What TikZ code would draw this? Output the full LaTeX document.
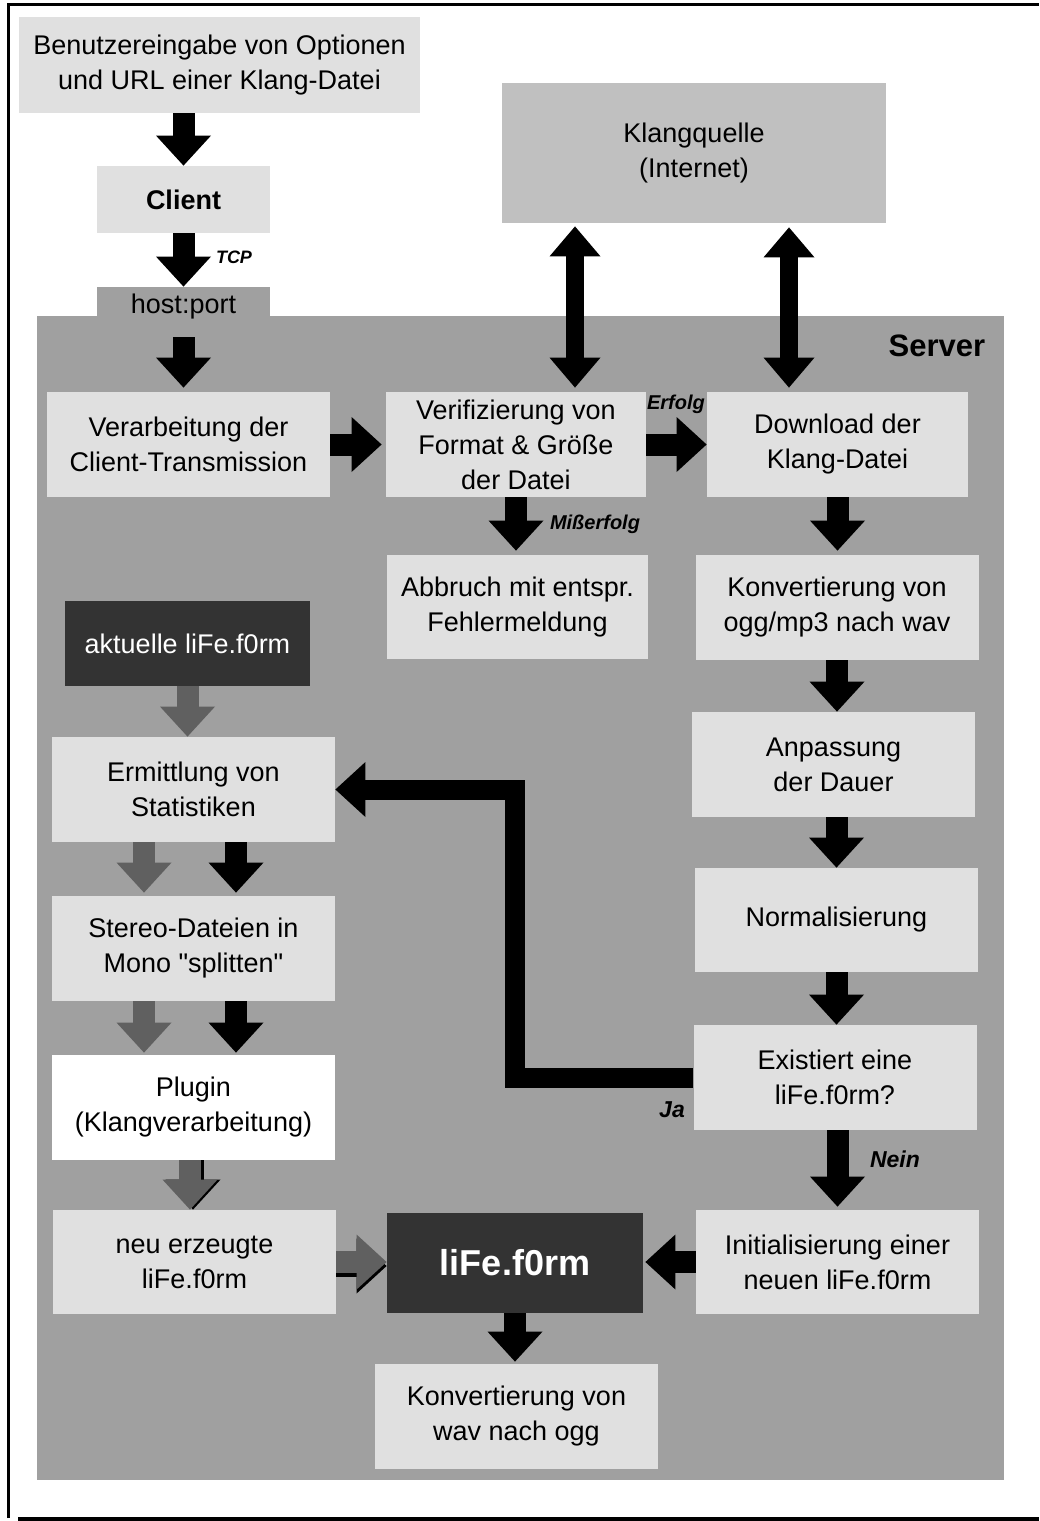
\documentclass[tikz,border=0pt]{standalone}
\usepackage{fontspec}
\setmainfont{Liberation Sans}
\newfontfamily\qfont{Liberation Sans}
\usetikzlibrary{arrows.meta}
\definecolor{boxgray}{HTML}{E0E0E0}
\definecolor{servergray}{HTML}{A0A0A0}
\definecolor{quellegray}{HTML}{C0C0C0}
\definecolor{lifegray}{HTML}{333333}
\definecolor{arrowgray}{HTML}{606060}
\begin{document}
\begin{tikzpicture}[x=0.5pt, y=-0.5pt,
        box/.style={fill=boxgray, inner sep=0pt, align=center, font=\fontsize{13.5}{17.5}\selectfont, minimum width=141.5pt, minimum height=52.5pt},
        darkbox/.style={box, fill=lifegray, text=white},
        lbl/.style={font=\fontsize{10}{12}\selectfont\bfseries\itshape},
        blk/.style={line width=11pt, -{Triangle[width=27.5pt, length=15pt, line width=0pt]}},
        gry/.style={blk, draw=arrowgray},
        dbl/.style={line width=9pt, {Triangle[width=25.5pt, length=15pt, line width=0pt]}-{Triangle[width=25.5pt, length=15pt, line width=0pt]}}]
        \useasboundingbox (0,0) rectangle (1039,1521);
        \draw[line width=1.5pt] (8,1518) -- (8,4.5) -- (1039,4.5);
        \draw[line width=2pt] (18,1519) -- (1039,1519);

        \node[box, fill=servergray, minimum width=483.5pt, minimum height=582pt] (server) at (520.5,898) {};
        \node[font=\fontsize{15.5}{18}\selectfont\bfseries] (serverlbl) at (937,346) {Server};

        \node[box, minimum width=200.5pt, minimum height=48pt] (user) at (219.5,65) {Benutzereingabe von Optionen\\und URL einer Klang-Datei};
        \node[box, minimum width=86.5pt, minimum height=33.5pt, font=\fontsize{13.5}{17.5}\selectfont\bfseries] (client) at (183.5,199.5) {Client};
        \node[box, fill=servergray, minimum width=86.5pt, minimum height=20pt] (hostport) at (183.5,307) {host:port};
        \node[box, fill=quellegray, minimum width=192pt, minimum height=70pt] (quelle) at (694,153) {Klangquelle\\(Internet)};

        \node[box] (verarb) at (188.5,444.5) {Verarbeitung der\\Client-Transmission};
        \node[box, minimum width=130pt] (verif) at (516,444.5) {Verifizierung von\\Format \& Größe\\der Datei};
        \node[box, minimum width=130.5pt] (download) at (837.5,444.5) {Download der\\Klang-Datei};
        \node[box, minimum width=130.5pt, minimum height=52pt] (abbruch) at (517.5,607) {Abbruch mit entspr.\\Fehlermeldung};
        \node[box] (ogg2wav) at (837,607.5) {Konvertierung von\\ogg/mp3 nach wav};
        \node[darkbox, minimum width=122.5pt, minimum height=42.5pt] (aktuell) at (187.5,643.5) {aktuelle liFe.f0rm};
        \node[box] (dauer) at (833.5,764.5) {Anpassung\\der Dauer};
        \node[box] (statistik) at (193.5,789.5) {Ermittlung von\\Statistiken};
        \node[box, minimum height=52pt] (normal) at (836.5,920) {Normalisierung};
        \node[box] (stereo) at (193.5,948.5) {Stereo-Dateien in\\Mono {\qfont"}splitten{\qfont"}};
        \node[box] (existiert) at (835,1077.5) {Existiert eine\\liFe.f0rm?};
        \node[box, fill=white] (plugin) at (193.5,1107.5) {Plugin\\(Klangverarbeitung)};
        \node[box, minimum height=52pt] (neu) at (194.5,1262) {neu erzeugte\\liFe.f0rm};
        \node[darkbox, minimum width=128pt, minimum height=50pt, font=\fontsize{18}{22}\selectfont\bfseries] (life) at (515,1263) {liFe.f0rm};
        \node[box, minimum height=52pt] (init) at (837.5,1262) {Initialisierung einer\\neuen liFe.f0rm};
        \node[box] (wav2ogg) at (516.5,1416.5) {Konvertierung von\\wav nach ogg};

        \coordinate (hp) at ([yshift=-5pt]hostport.south);
        \coordinate (ql) at ([xshift=29.5pt]verif.north);
        \coordinate (qr) at ([xshift=-24.25pt]download.north);
        \coordinate (gl) at ([xshift=-24.75pt]statistik.south);
        \coordinate (gr) at ([xshift=21.25pt]statistik.south);
        \coordinate (pn) at ([xshift=-1.75pt]plugin.south);

        \draw[blk] (user.south -| client.north) -- (client.north);
        \draw[blk] (client.south) -- (hostport.north);
        \node[lbl, font=\fontsize{9}{11}\selectfont\bfseries\itshape] (tcp) at (234,257) {TCP};
        \draw[blk, shorten >=2pt] (hp) -- (hp |- verarb.north);
        \draw[blk, shorten >=2pt] (verarb.east) -- (verif.west);
        \draw[blk] (verif.east) -- (download.west);
        \node[lbl] (erfolg) at (676,404) {Erfolg};
        \draw[blk, shorten >=2pt] (verif.south) -- (verif.south |- abbruch.north);
        \node[lbl] (misserfolg) at (595,524) {Mißerfolg};
        \draw[dbl, shorten <=1.5pt, shorten >=2pt] (ql |- quelle.south) -- (ql);
        \draw[dbl, shorten <=2pt, shorten >=2pt] (qr |- quelle.south) -- (qr);

        \draw[blk, shorten >=2pt] (download.south) -- (download.south |- ogg2wav.north);
        \draw[blk] (ogg2wav.south) -- (ogg2wav.south |- dauer.north);
        \draw[blk] (normal.north |- dauer.south) -- (normal.north);
        \draw[blk] (normal.south) -- (normal.south |- existiert.north);
        \draw[blk, shorten >=1.5pt] (existiert.south -| init.north) -- (init.north);
        \node[lbl, font=\fontsize{11.5}{13}\selectfont\bfseries\itshape] (nein) at (895,1159) {Nein};
        \draw[line width=10pt, -{Triangle[width=27.5pt, length=15pt, line width=0pt]}] (existiert.west) -| (life.north |- statistik.east) -- (statistik.east);
        \node[lbl, font=\fontsize{11.5}{13}\selectfont\bfseries\itshape] (ja) at (672,1110) {Ja};
        \draw[blk, shorten >=1pt] (init.west) -- (init.west -| life.east);
        \draw[blk, shorten >=1pt] (life.south) -- (life.south |- wav2ogg.north);

        \draw[gry] (aktuell.south) -- (aktuell.south |- statistik.north);
        \draw[gry, shorten >=1.5pt] (gl) -- (gl |- stereo.north);
        \draw[blk, shorten >=1.5pt] (gr) -- (gr |- stereo.north);
        \draw[gry, shorten >=1pt] (gl |- stereo.south) -- (gl |- plugin.north);
        \draw[blk, shorten >=1pt] (gr |- stereo.south) -- (gr |- plugin.north);
        % \draw[gry] (plugin.south) -- (neu.north);
        \draw[blk, transform canvas={xshift=1.5pt}] (pn) -- (pn |- neu.north);
        \draw[gry] (pn) -- (pn |- neu.north);
        \draw[blk, transform canvas={yshift=-2pt}] (neu.east) -- (neu.east -| life.west);
        \draw[gry] (neu.east) -- (neu.east -| life.west);
    \end{tikzpicture}
\end{document}
